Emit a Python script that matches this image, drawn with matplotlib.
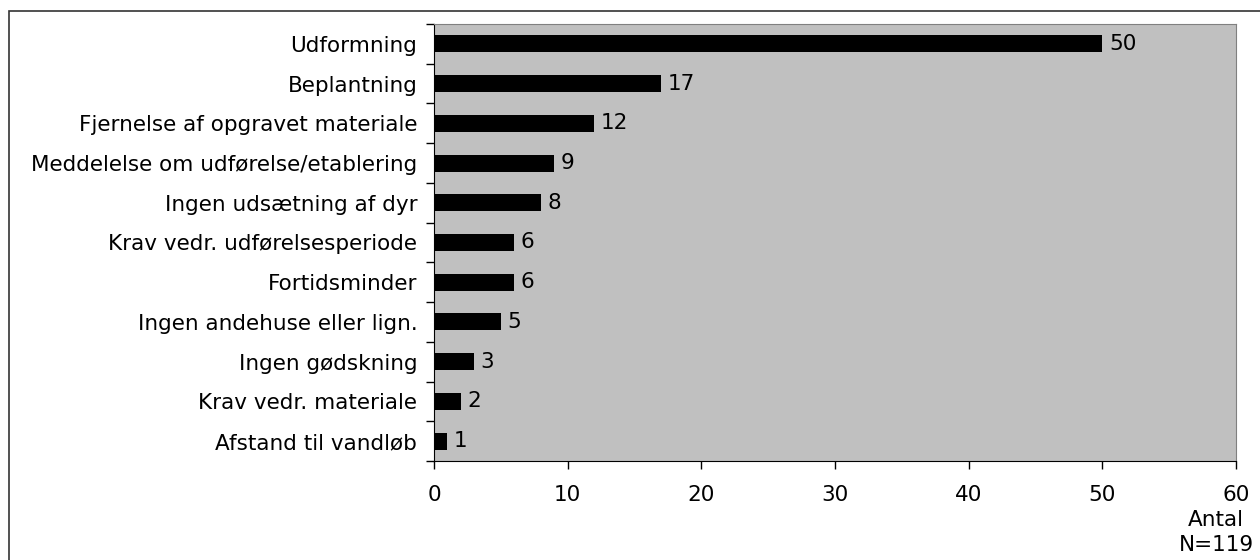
import numpy as np
import matplotlib.pyplot as plt
from matplotlib.patches import Rectangle

labels = ['Udformning', 'Beplantning', 'Fjernelse af opgravet materiale',
          'Meddelelse om udførelse/etablering', 'Ingen udsætning af dyr',
          'Krav vedr. udførelsesperiode', 'Fortidsminder',
          'Ingen andehuse eller lign.', 'Ingen gødskning',
          'Krav vedr. materiale', 'Afstand til vandløb']
counts = [50, 17, 12, 9, 8, 6, 6, 5, 3, 2, 1]
xticks = [0, 10, 20, 30, 40, 50, 60]

plt.rcParams['font.family'] = ['DejaVu Sans']
fs = 15.5

fig = plt.figure(figsize=(12.6, 5.6), dpi=100)
W, H = 1260, 560
ax = fig.add_axes([434 / W, 1 - 461 / H, (1236 - 434) / W, (461 - 24) / H])

# outer frame of the chart
fig.patches.append(Rectangle((9 / W, -0.05), 1.2, 1 - 11 / H + 0.05,
                             transform=fig.transFigure, fill=False,
                             edgecolor='#333333', lw=1.2))

ax.set_facecolor('#c0c0c0')
y = np.arange(len(labels))
ax.barh(y, counts, height=0.43, color='black', zorder=2)
for yi, c in zip(y, counts):
    ax.text(c + 0.5, yi, str(c), va='center', ha='left', fontsize=fs)

ax.set_ylim(len(labels) - 0.5, -0.5)
ax.set_xlim(0, 60)
ax.set_xticks(xticks)
ax.set_xticklabels([str(t) for t in xticks], fontsize=fs)
ax.set_yticks(y)
ax.set_yticklabels(labels, fontsize=fs)
ax.set_yticks(np.arange(len(labels) + 1) - 0.5, minor=True)
ax.tick_params(axis='y', which='major', length=0, pad=12)
ax.tick_params(axis='y', which='minor', length=6, width=1, color='black')
ax.tick_params(axis='x', length=6, width=1, pad=11)

for s in ['top', 'right']:
    ax.spines[s].set_color('#808080')
for s in ['left', 'bottom']:
    ax.spines[s].set_color('black')

fig.text(1216 / W, 1 - 520 / H, 'Antal', ha='center', va='center', fontsize=fs)
fig.text(1216 / W, 1 - 545 / H, 'N=119', ha='center', va='center', fontsize=fs)

fig.savefig('out.png', dpi=100)
